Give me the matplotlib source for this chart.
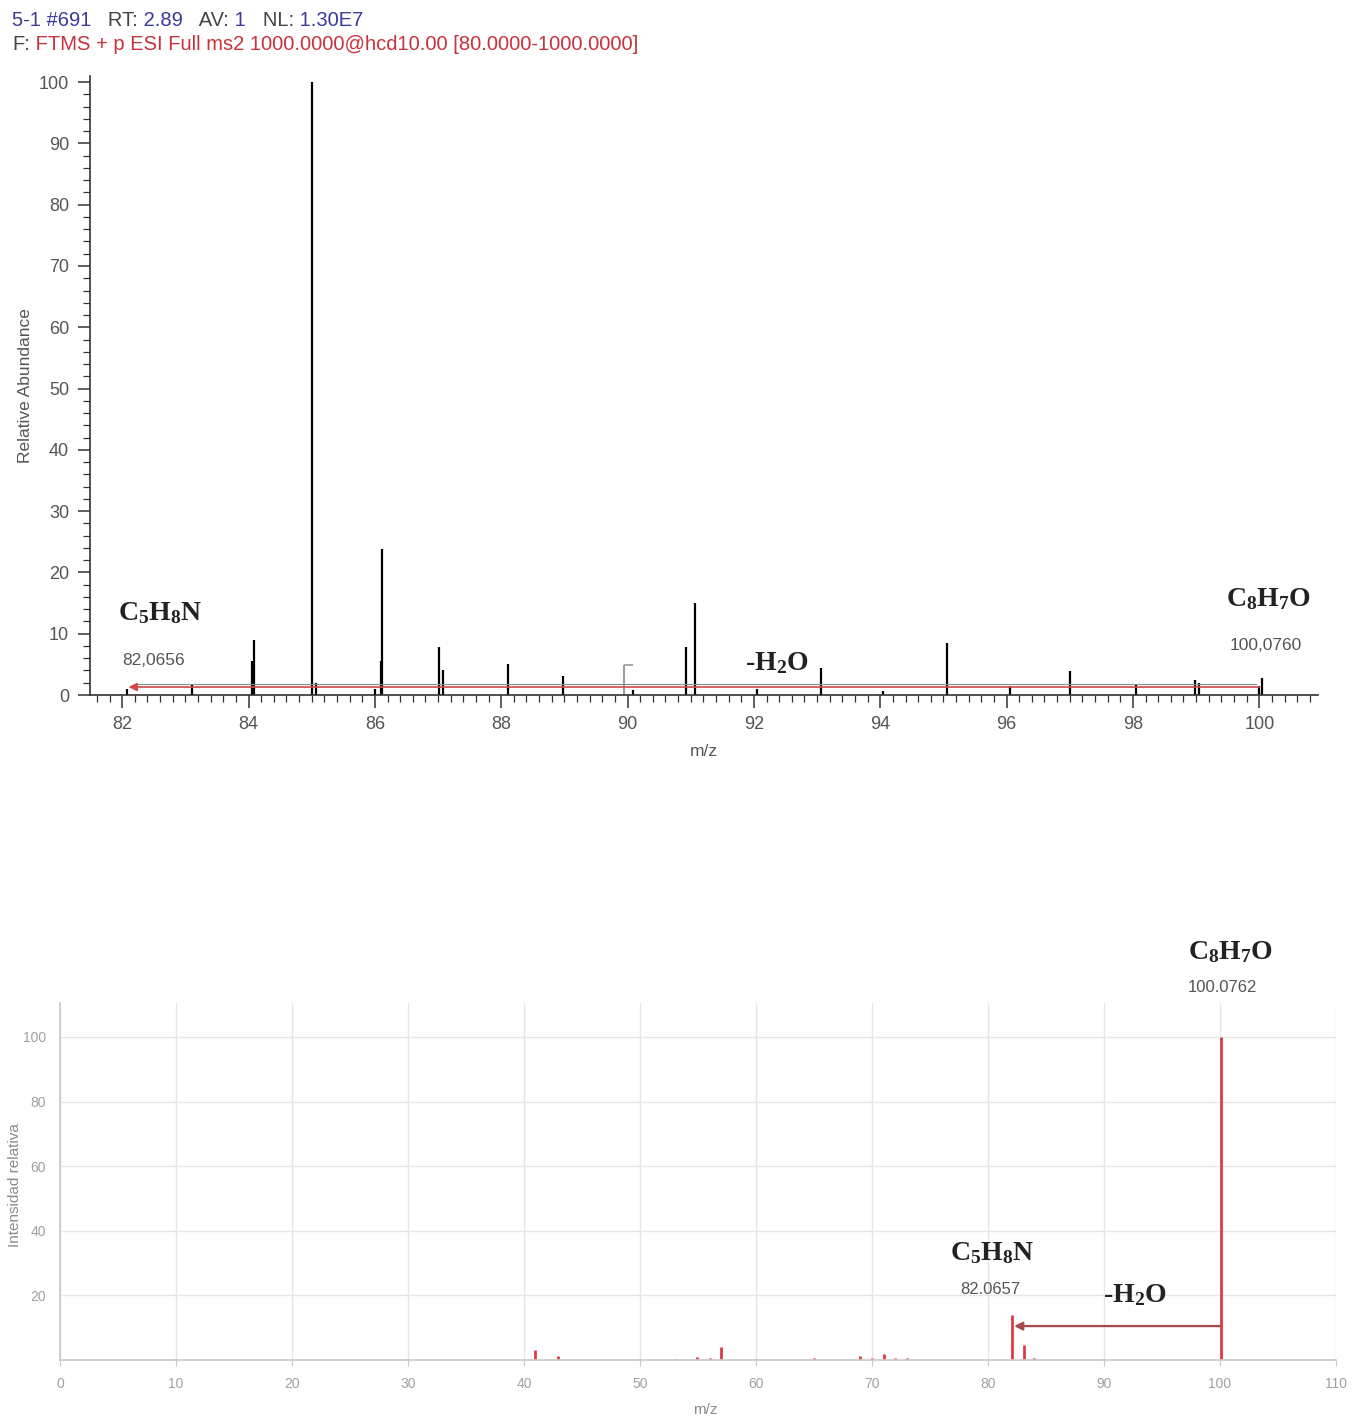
import matplotlib
matplotlib.use("Agg")
import matplotlib.pyplot as plt
from matplotlib.ticker import MultipleLocator

plt.rcParams['font.family'] = ['Liberation Sans', 'DejaVu Sans']
plt.rcParams['mathtext.fontset'] = 'custom'
plt.rcParams['mathtext.rm'] = 'Liberation Serif:bold'
plt.rcParams['mathtext.bf'] = 'Liberation Serif:bold'
plt.rcParams['mathtext.it'] = 'Liberation Serif:bold'

# Measured MS2 spectrum (profile centroids), m/z vs relative abundance
top_mz = [82.07, 83.11, 84.06, 84.08, 85.00, 85.07, 86.00, 86.10, 86.12,
          87.02, 87.08, 88.10, 88.98, 90.08, 90.93, 91.07, 92.05, 93.07,
          94.05, 95.06, 96.05, 97.01, 98.05, 98.98, 99.05, 100.00, 100.04]
top_int = [1.0, 1.8, 5.5, 9.0, 100.0, 2.0, 1.0, 5.5, 23.8,
           7.8, 4.0, 5.0, 3.1, 0.8, 7.8, 15.0, 1.0, 4.4,
           0.6, 8.5, 1.5, 3.9, 1.8, 2.5, 2.0, 1.5, 2.8]
# Flagged peak drawn in grey
flag_mz = 89.95
flag_int = 4.9

# Reference / predicted spectrum
ref_mz = [40.95, 42.9, 53.0, 54.9, 56.0, 57.0, 60.0, 65.0, 69.0, 70.0,
          71.0, 72.0, 73.0, 82.07, 83.07, 84.0, 100.08]
ref_int = [3.0, 1.2, 0.4, 1.0, 0.5, 4.0, 0.3, 0.5, 1.3, 0.5,
           1.8, 0.7, 0.5, 14.0, 4.5, 0.5, 100.0]

top_xticks = [82, 84, 86, 88, 90, 92, 94, 96, 98, 100]
top_yticks = [0, 10, 20, 30, 40, 50, 60, 70, 80, 90, 100]
ref_xticks = [0, 10, 20, 30, 40, 50, 60, 70, 80, 90, 100, 110]
ref_yticks = [20, 40, 60, 80, 100]

FORMULA = dict(fontsize=20, ha='center', va='center', color='#222222',
               family='Liberation Serif', weight='bold')

fig = plt.figure(figsize=(13.54, 14.22), dpi=100)

# ---------------- header ----------------
hdr_blue = '#3a3a9a'
hdr_dark = '#444444'
hdr_red = '#c8323c'
y1 = 1 - 21 / 1422
y2 = 1 - 45 / 1422
parts1 = [("5-1 #691", hdr_blue), ("   RT:", hdr_dark), (" 2.89", hdr_blue),
          ("   AV:", hdr_dark), (" 1", hdr_blue), ("   NL:", hdr_dark),
          (" 1.30E7", hdr_blue)]
r = fig.canvas.get_renderer()


def write_line(parts, y):
    x = 12 / 1354
    for s, c in parts:
        t = fig.text(x, y, s, color=c, fontsize=14.5, va='center', ha='left')
        bb = t.get_window_extent(renderer=r)
        x += bb.width / fig.bbox.width


write_line(parts1, y1)
write_line([("F:", hdr_dark),
            (" FTMS + p ESI Full ms2 1000.0000@hcd10.00 [80.0000-1000.0000]", hdr_red)], y2)

# ---------------- top panel ----------------
ax1 = fig.add_axes([90 / 1354, 1 - 695 / 1422, (1318 - 90) / 1354, (695 - 76) / 1422])
ax1.set_xlim(81.49, 100.93)
ax1.set_ylim(0, 101)
ax1.vlines(top_mz, 0, top_int, color='black', lw=1.6)
ax1.vlines([flag_mz], 0, [flag_int], color='#9a9a9a', lw=1.4)
ax1.hlines([flag_int], flag_mz, flag_mz + 0.13, color='#9a9a9a', lw=1.2)

# neutral-loss arrow
ax1.plot([82.25, 99.95], [1.75, 1.75], color='#8a8a8a', lw=0.8)
ax1.annotate('', xy=(82.1, 1.3), xytext=(100.0, 1.3),
             arrowprops=dict(arrowstyle='-|>', color='#d04848', lw=1.2,
                             mutation_scale=12, shrinkA=0, shrinkB=0))

ax1.text(82.6, 13.4, r'C$_5$H$_8$N', **FORMULA)
ax1.text(82.49, 5.7, '82,0656', fontsize=12.5, ha='center', va='center', color='#555555')
ax1.text(100.15, 15.7, r'C$_8$H$_7$O', **FORMULA)
ax1.text(100.1, 8.0, '100,0760', fontsize=12.5, ha='center', va='center', color='#555555')
ax1.text(92.36, 5.2, r'-H$_2$O', **FORMULA)

for s in ['top', 'right']:
    ax1.spines[s].set_visible(False)
for s in ['left', 'bottom']:
    ax1.spines[s].set_color('#333333')
    ax1.spines[s].set_linewidth(1.2)
ax1.set_xticks(top_xticks)
ax1.set_yticks(top_yticks)
ax1.xaxis.set_minor_locator(MultipleLocator(0.2))
ax1.yaxis.set_minor_locator(MultipleLocator(2))
ax1.tick_params(axis='both', which='major', length=9, width=1.1, color='#333333',
                labelsize=13, labelcolor='#555555', pad=6)
ax1.tick_params(axis='both', which='minor', length=5, width=0.9, color='#333333')
ax1.set_ylabel('Relative Abundance', fontsize=12.5, color='#555555', labelpad=4)
ax1.set_xlabel('m/z', fontsize=12.5, color='#555555', labelpad=8)

# ---------------- bottom panel ----------------
ax2 = fig.add_axes([60 / 1354, 1 - 1360 / 1422, (1336 - 60) / 1354, (1360 - 1003) / 1422])
ax2.set_xlim(0, 110)
ax2.set_ylim(0, 110.5)
ax2.set_xticks(ref_xticks)
ax2.set_yticks(ref_yticks)
ax2.grid(True, color='#e6e6e6', lw=1.0)
ax2.set_axisbelow(True)
ax2.vlines(ref_mz, 0, ref_int, color='#e03a44', lw=2.0)

ax2.annotate('', xy=(82.25, 10.5), xytext=(100.0, 10.5),
             arrowprops=dict(arrowstyle='-|>', color='#a84848', lw=1.6,
                             mutation_scale=12, shrinkA=0, shrinkB=0))

ax2.text(100.9, 126.3, r'C$_8$H$_7$O', clip_on=False, **FORMULA)
ax2.text(100.2, 115.2, '100.0762', fontsize=12, ha='center', va='center',
         color='#555555', clip_on=False)
ax2.text(80.4, 33.1, r'C$_5$H$_8$N', **FORMULA)
ax2.text(80.2, 21.7, '82.0657', fontsize=12, ha='center', va='center', color='#555555')
ax2.text(92.7, 20.1, r'-H$_2$O', **FORMULA)

for s in ['top', 'right']:
    ax2.spines[s].set_visible(False)
for s in ['left', 'bottom']:
    ax2.spines[s].set_color('#c8c8c8')
    ax2.spines[s].set_linewidth(1.2)
ax2.tick_params(axis='both', length=4, color='#c8c8c8', labelsize=10,
                labelcolor='#a0a0a0', pad=8)
ax2.tick_params(axis='y', length=0, pad=10)
fig.text(15 / 1354, 1 - 1185 / 1422, 'Intensidad relativa', rotation=90,
         fontsize=11, color='#8a8a8a', ha='center', va='center')
fig.text(705 / 1354, 1 - 1410 / 1422, 'm/z', fontsize=11, color='#8a8a8a',
         ha='center', va='center')

fig.savefig('out.png', dpi=100, facecolor='white')
